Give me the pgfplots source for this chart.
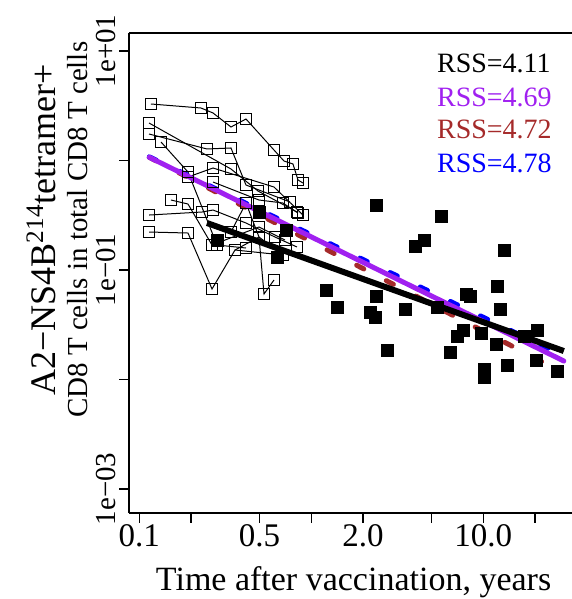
\documentclass[border=0pt]{standalone}
\usepackage{fontspec}
\setmainfont{Liberation Serif}
\usepackage{pgfplots}
\pgfplotsset{compat=1.18}
\usetikzlibrary{calc}
\definecolor{rpurple}{HTML}{A020F0}
\definecolor{rbrown}{HTML}{A52A2A}

\begin{document}
\begin{tikzpicture}
\pgfplotsset{
  traj/.style={black, line width=0.5pt, mark=square, mark size=2.8pt, mark options={solid, line width=0.6pt}},
  fitdash/.style={line width=2.5pt, line cap=round, dash pattern=on 4pt off 12.7pt}
}
\begin{axis}[
  scale only axis, width=221.5pt, height=240pt,
  xmode=log, ymode=log,
  xmin=0.0871, xmax=32.8, ymin=6.04e-4, ymax=14.6,
  axis x line=box, axis y line=left,
  axis line style={-, line width=0.7pt},
  xtick pos=left,
  xtick={0.1,0.2,0.5,1,2,5,10,20},
  xticklabels={0.1,,0.5,,2.0,,10.0,},
  ytick={10,1,0.1,0.01,0.001},
  yticklabels={,,,,},
  xminorticks=false, yminorticks=false,
  tick align=outside, major tick length=5pt,
  tick style={black, line width=0.7pt},
  xticklabel style={font=\fontsize{16.5}{18}\selectfont, anchor=base},
  xticklabel shift=12pt,
  xlabel={Time after vaccination, years},
  xlabel style={at={(axis description cs:0.507,0)}, anchor=base, yshift=-38.5pt, inner sep=0pt, font=\fontsize{17}{20}\selectfont},
  ylabel={{\fontsize{18}{16}\selectfont A2−NS4B\textsuperscript{214}tetramer+}\\CD8 T cells in total CD8 T cells},
  ylabel style={at={(axis description cs:-0.092,0.590)}, anchor=south, align=center, inner sep=0pt, font=\fontsize{14.5}{16}\selectfont},
]
\coordinate (sw) at (rel axis cs:0,0);
\coordinate (ne) at (rel axis cs:1,1);

% longitudinal patients (open squares)
\addplot[traj] coordinates {(0.1169,3.281) (0.2284,3.016) (0.2683,2.716) (0.3412,2.023) (0.4172,2.393) (0.6068,1.247) (0.6938,0.9895) (0.7827,0.9290) (0.8368,0.6636) (0.8948,0.6230)};
\addplot[traj] coordinates {(0.1139,2.200) (0.3412,0.8364) (0.4898,0.5266) (0.8257,0.3386)};
\addplot[traj] coordinates {(0.1139,1.746) (0.2475,1.274) (0.3412,1.301) (0.4172,0.5974) (0.7519,0.4178)};
\addplot[traj] coordinates {(0.1337,1.476) (0.1919,0.7852) (0.2830,0.1691) (0.4172,0.1588)};
\addplot[traj] coordinates {(0.1919,0.7067) (0.2683,0.8541) (0.6068,0.5728) (0.8948,0.3178)};
\addplot[traj] coordinates {(0.2683,0.6362) (0.4965,0.4357) (0.6845,0.4091) (0.8368,0.3315)};
\addplot[traj] coordinates {(0.1528,0.4357) (0.1919,0.4006) (0.2647,0.1691) (0.4965,0.2470) (0.7032,0.1879)};
\addplot[traj] coordinates {(0.1139,0.3178) (0.2315,0.3386) (0.2683,0.3531) (0.4172,0.2687) (0.6151,0.2001) (0.8257,0.1622)};
\addplot[traj] coordinates {(0.1139,0.2223) (0.1919,0.2177) (0.2647,0.0671) (0.3601,0.1523) (0.6845,0.1371)};
\addplot[traj] coordinates {(0.3412,0.2223) (0.4172,0.4091) (0.4965,0.2001) (0.5309,0.0604) (0.6068,0.0810)};
\addplot[traj] coordinates {(0.3601,0.1523) (0.4965,0.2001) (0.6845,0.1371)};

% single time-point donors (filled squares)
\addplot[only marks, mark=square*, mark size=3pt, black] coordinates {
(0.2840,0.1879) (0.4985,0.3364) (0.7194,0.2319) (0.6378,0.1295)
(1.229,0.0647) (1.424,0.0453) (2.378,0.3924) (2.378,0.0579)
(2.194,0.0407) (2.346,0.0367) (2.781,0.01833) (3.506,0.0441)
(4.009,0.1632) (4.520,0.1879) (5.677,0.3067) (5.431,0.0455)
(6.404,0.01758) (7.062,0.0246) (7.649,0.0283) (8.008,0.0604)
(8.370,0.0579) (9.696,0.0264) (10.09,0.01247) (10.09,0.01038)
(11.85,0.02094) (12.13,0.0704) (12.51,0.0441) (13.19,0.1523)
(13.87,0.01336) (17.32,0.0246) (20.44,0.01507) (20.72,0.0283)
(27.08,0.01178)};

% fitted models
\addplot[rbrown, fitdash] coordinates {(0.1143,1.07) (29.4,0.01145)};
\addplot[blue, fitdash] coordinates {(0.1143,1.08) (29.4,0.0164)};
\addplot[rpurple, line width=2.5pt, line cap=round] coordinates {(0.1143,1.07) (29.4,0.01476)};
\addplot[black, line width=3pt] coordinates {(0.2475,0.2687) (29.4,0.0182)};

\node[anchor=base west, font=\fontsize{14}{16}\selectfont, text=black] at (rel axis cs:0.6795,0.9173) {RSS=4.11};
\node[anchor=base west, font=\fontsize{14}{16}\selectfont, text=rpurple] at (rel axis cs:0.6795,0.8479) {RSS=4.69};
\node[anchor=base west, font=\fontsize{14}{16}\selectfont, text=rbrown] at (rel axis cs:0.6795,0.7792) {RSS=4.72};
\node[anchor=base west, font=\fontsize{14}{16}\selectfont, text=blue] at (rel axis cs:0.6795,0.7104) {RSS=4.78};
\end{axis}
% y tick labels, rotated as in the source
\foreach \yy/\lab in {0.9626/1e+01, 0.5063/1e−01, 0.0500/1e−03}
  \node[rotate=90, anchor=base, inner sep=0pt, font=\fontsize{14.5}{16}\selectfont]
    at ($(sw)!\yy!(sw|-ne)+(-7pt,0)$) {\lab};
\pgfresetboundingbox
\path ($(sw)+(-64.5pt,-43pt)$) rectangle ($(ne)+(0pt,16.5pt)$);
\end{tikzpicture}
\end{document}
